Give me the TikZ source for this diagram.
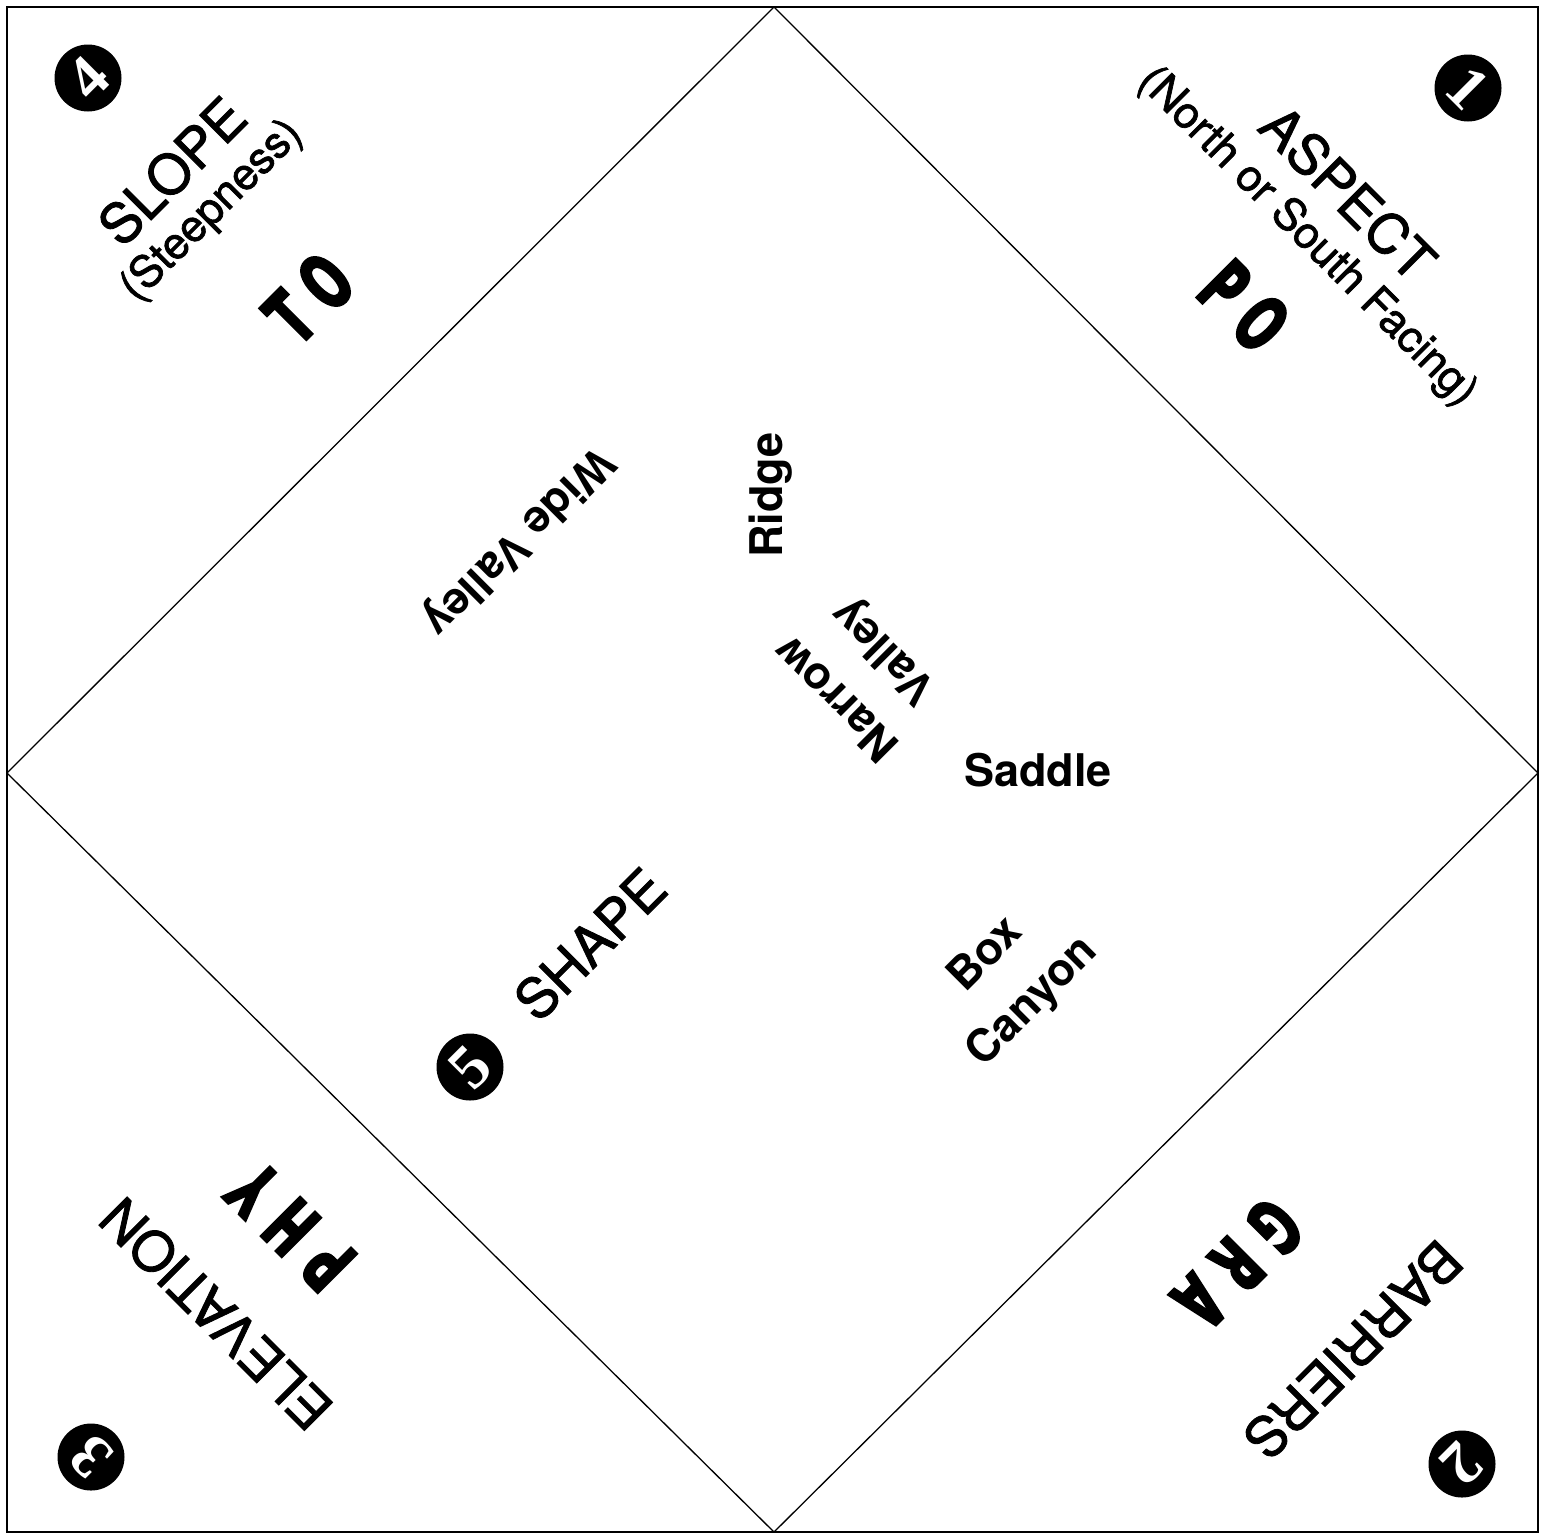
\documentclass[tikz,border=0pt]{standalone}
\usepackage{fontspec}
\setmainfont{TeX Gyre Heros}
\newfontfamily\labelfont[FakeBold=1.6]{TeX Gyre Heros}
\newfontfamily\blockfont[FakeStretch=0.66]{DejaVu Sans Condensed}[BoldFeatures={FakeBold=3}]
\newfontfamily\digitfont{Liberation Serif}
\begin{document}
\begin{tikzpicture}[x=1pt,y=-1pt,
  big/.style={font=\fontsize{55}{60}\selectfont\labelfont, inner sep=0pt},
  sub/.style={font=\fontsize{44}{50}\selectfont\labelfont, inner sep=0pt},
  ctr/.style={font=\fontsize{45}{66}\selectfont\bfseries, align=center, inner sep=0pt},
  blk/.style={font=\fontsize{76}{78}\selectfont\blockfont\bfseries, inner sep=0pt},
  num/.style={circle, fill=black, minimum size=67pt, inner sep=0pt, text=white,
    font=\fontsize{62}{62}\selectfont\digitfont\bfseries},
  border/.style={line width=2pt},
  fold/.style={line width=1.3pt}]
\useasboundingbox (0,0) rectangle (1544,1535);
\fill[white] (0,0) rectangle (1544,1535);
% outer square and diamond
\coordinate (tl) at (7,7);
\coordinate (br) at (1538,1532);
\coordinate (dt) at (774,7);
\coordinate (dr) at (1538,773);
\coordinate (db) at (774,1532);
\coordinate (dl) at (7,773);
\draw[border] (tl) rectangle (br);
\draw[fold] (dt) -- (dr) -- (db) -- (dl) -- cycle;
% corner 4
\node[num, rotate=45] (n4) at (88,78) {4};
\node[big, rotate=45] (slope) at (172,171) {SLOPE};
\node[sub, rotate=45] (steep) at (212,211) {(Steepness)};
\node[blk, rotate=45] (to) at (309,298) {T\hspace{16pt}O};
% corner 1
\node[num, rotate=-45] (n1) at (1468,88) {1};
\node[big, rotate=-45] (aspect) at (1348,193) {ASPECT};
\node[sub, rotate=-45] (north) at (1307,237) {(North or South Facing)};
\node[blk, rotate=-45] (po) at (1244,306) {P\hspace{16pt}O};
% corner 3
\node[num, rotate=135] (n3) at (91,1457) {3};
\node[big, rotate=135] (elev) at (216,1314) {ELEVATION};
\node[blk, rotate=135] (phy) at (291,1227) {P\hspace{18pt}H\hspace{18pt}Y};
% corner 2
\node[num, rotate=-135] (n2) at (1462,1464) {2};
\node[big, rotate=-135] (barr) at (1353,1350) {BARRIERS};
\node[blk, rotate=-135] (gra) at (1238,1264) {G\hspace{18pt}R\hspace{18pt}A};
% centre
\node[ctr, rotate=-135] (wide) at (517,540) {Wide Valley};
\node[ctr, rotate=90] (ridge) at (771,495) {Ridge};
\node[ctr, rotate=135] (narrow) at (862,673) {Narrow\\Valley};
\node[ctr] (saddle) at (1038,770) {Saddle};
\node[big, rotate=45] (shape) at (590,944) {SHAPE};
\node[num, rotate=45] (n5) at (470,1067) {5};
\node[ctr, rotate=45] (box) at (1010,979) {Box\\Canyon};
\end{tikzpicture}
\end{document}
